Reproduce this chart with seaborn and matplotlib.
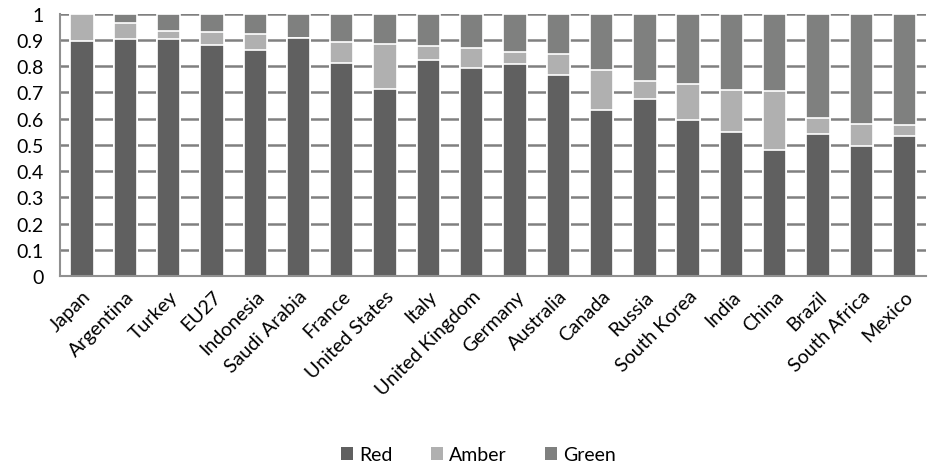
import numpy as np
import pandas as pd
import matplotlib
matplotlib.use('Agg')
import matplotlib.pyplot as plt
import seaborn as sns
from matplotlib.patches import Patch

# Data
countries = ['Japan', 'Argentina', 'Turkey', 'EU27', 'Indonesia', 'Saudi Arabia',
             'France', 'United States', 'Italy', 'United Kingdom', 'Germany',
             'Australia', 'Canada', 'Russia', 'South Korea', 'India', 'China',
             'Brazil', 'South Africa', 'Mexico']
red = [0.898, 0.905, 0.905, 0.880, 0.861, 0.908, 0.813, 0.712, 0.823, 0.795,
       0.808, 0.767, 0.634, 0.674, 0.597, 0.550, 0.481, 0.543, 0.497, 0.536]
amber = [0.102, 0.059, 0.031, 0.049, 0.061, 0.000, 0.079, 0.172, 0.055, 0.074,
         0.046, 0.078, 0.152, 0.068, 0.136, 0.161, 0.224, 0.060, 0.082, 0.039]
green = [0.000, 0.036, 0.064, 0.071, 0.078, 0.092, 0.108, 0.116, 0.122, 0.131,
         0.146, 0.155, 0.214, 0.258, 0.267, 0.289, 0.295, 0.397, 0.421, 0.425]

colors = {'Red': '#606060', 'Amber': '#b0b0b0', 'Green': '#7f807f'}

df = pd.DataFrame({'country': countries, 'Red': red, 'Amber': amber, 'Green': green})
df['c_red'] = df['Red']
df['c_amber'] = df['Red'] + df['Amber']
df['c_green'] = df['Red'] + df['Amber'] + df['Green']

sns.set_style('white')
plt.rcParams['font.family'] = ['Lato', 'DejaVu Sans']
plt.rcParams['text.color'] = 'black'
plt.rcParams['xtick.color'] = 'black'
plt.rcParams['ytick.color'] = 'black'

fig, ax = plt.subplots(figsize=(9.29, 4.77), dpi=100)
fig.subplots_adjust(left=0.065, right=0.997, top=0.969, bottom=0.419)

# horizontal grid behind bars
for yv in np.arange(0.1, 1.01, 0.1):
    ax.axhline(yv, color='#808080', lw=1.8, zorder=0)

# stacked bars: draw cumulative totals from top down
for col, name in [('c_green', 'Green'), ('c_amber', 'Amber'), ('c_red', 'Red')]:
    sns.barplot(data=df, x='country', y=col, color=colors[name], width=0.54,
                edgecolor='white', linewidth=1.2, saturation=1, ax=ax, zorder=2)

ax.set_ylim(0, 1)
ax.set_xlim(-0.5, len(countries) - 0.5)
ax.set_yticks(np.arange(0, 1.01, 0.1))
ax.set_yticklabels(['0'] + [f'{v:.1f}' for v in np.arange(0.1, 0.95, 0.1)] + ['1'], fontsize=14)
ax.set_xticks(range(len(countries)))
ax.set_xticklabels(countries, rotation=45, ha='right', rotation_mode='anchor', fontsize=14)
ax.tick_params(axis='y', length=0, pad=12)
ax.tick_params(axis='x', length=0, pad=8)
ax.set_xlabel('')
ax.set_ylabel('')
for s in ['top', 'right']:
    ax.spines[s].set_visible(False)
for s in ['left', 'bottom']:
    ax.spines[s].set_color('#909090')
    ax.spines[s].set_linewidth(1.5)

handles = [Patch(facecolor=colors[n], edgecolor='none', label=n) for n in ['Red', 'Amber', 'Green']]
fig.legend(handles=handles, loc='lower center', bbox_to_anchor=(0.515, -0.01), ncol=3,
           frameon=False, fontsize=14, handlelength=0.6, handleheight=0.6,
           handletextpad=0.3, columnspacing=2.0)

fig.savefig('out.png', dpi=100)
